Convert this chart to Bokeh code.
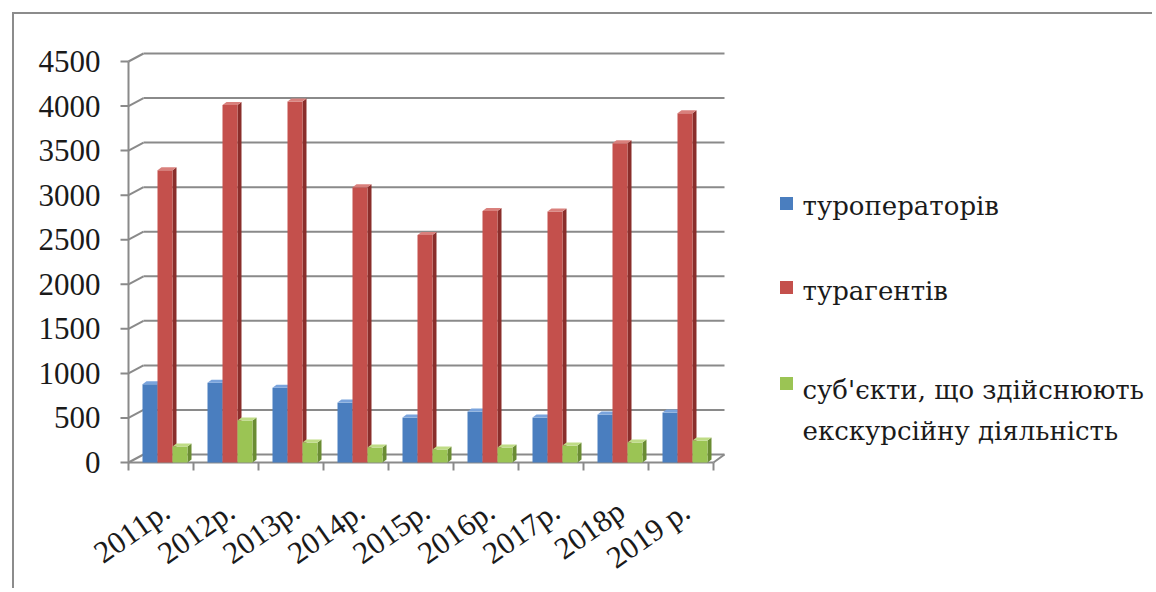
from bokeh.plotting import figure
from bokeh.models import Range1d, ColumnDataSource
from bokeh.core.properties import value
from bokeh.embed import file_html
from bokeh.resources import INLINE

# ---- data ----
years = ["2011р.", "2012р.", "2013р.", "2014р.", "2015р.", "2016р.", "2017р.", "2018р", "2019 р."]
tour_operators = [877, 896, 840, 672, 504, 571, 504, 538, 560]
travel_agents = [3281, 4012, 4050, 3090, 2553, 2822, 2818, 3583, 3919]
excursion = [179, 470, 224, 168, 146, 168, 190, 224, 246]
legend_lines = ["туроператорів", "турагентів", "суб'єкти, що здійснюють", "екскурсійну діяльність"]
y_ticks = [0, 500, 1000, 1500, 2000, 2500, 3000, 3500, 4000, 4500]
y_tick_labels = [str(t) for t in y_ticks]

# ---- geometry (page pixels -> data) ----
PX_X = 65.0               # pixels per category
PX_Y = 401.0 / 4500.0     # pixels per unit
ORIGIN_X, ORIGIN_Y = 128, 462   # page position of (0, 0)


def dx(px):
    return (px - ORIGIN_X) / PX_X


def dy(py):
    return (ORIGIN_Y - py) / PX_Y


W, H = 1140, 576
CANVAS_X, CANVAS_Y = 14, 14
FONT = "Liberation Serif"
FONT_CYR = "DejaVu Serif"
TEXT = "#1a1a1a"
GRID = "#8a8a8a"

p = figure(width=W, height=H, output_backend="svg", toolbar_location=None,
           x_range=Range1d(dx(CANVAS_X), dx(CANVAS_X + W)),
           y_range=Range1d(dy(CANVAS_Y + H), dy(CANVAS_Y)),
           x_axis_location=None, y_axis_location=None,
           min_border_left=0, min_border_right=0, min_border_top=0, min_border_bottom=0)
p.styles = {"margin-left": "12px", "margin-top": "12px",
            "border-left": "2px solid #8c8c8c", "border-top": "2px solid #8c8c8c"}
p.outline_line_color = None
p.grid.grid_line_color = None
p.grid.visible = False
p.background_fill_color = "white"
p.border_fill_color = "white"

wall_dx = 15 / PX_X
wall_dy = 8 / PX_Y
n = len(years)
wall_right = n + 11 / PX_X
nt = len(y_ticks)

# back wall gridlines with diagonal link to the front axis
p.segment(x0=[0] * nt, y0=y_ticks, x1=[wall_dx] * nt,
          y1=[t + wall_dy for t in y_ticks], line_color=GRID, line_width=2)
p.segment(x0=[wall_dx] * nt, y0=[t + wall_dy for t in y_ticks],
          x1=[wall_right] * nt, y1=[t + wall_dy for t in y_ticks],
          line_color=GRID, line_width=2)
# front value axis, its ticks and labels
p.segment(x0=[0], y0=[0], x1=[0], y1=[y_ticks[-1]], line_color=GRID, line_width=2)
p.segment(x0=[dx(ORIGIN_X - 8)] * nt, y0=y_ticks, x1=[0] * nt, y1=y_ticks,
          line_color=GRID, line_width=2)
p.text(x=[dx(ORIGIN_X - 28)] * nt, y=y_ticks, text=y_tick_labels, text_align="right",
       text_baseline="middle", text_font=value(FONT), text_font_size="31px", text_color=TEXT)
# floor edge and category ticks
p.segment(x0=[0], y0=[0], x1=[n], y1=[0], line_color=GRID, line_width=2)
p.segment(x0=[n], y0=[0], x1=[wall_right], y1=[wall_dy], line_color=GRID, line_width=2)
tick_len = 8 / PX_Y
p.segment(x0=list(range(n + 1)), y0=[0] * (n + 1), x1=list(range(n + 1)),
          y1=[-tick_len] * (n + 1), line_color=GRID, line_width=2)

# bars (pseudo 3D)
bar_w = 15 / PX_X
start = 14 / PX_X
ddx = 4 / PX_X
ddy = 3 / PX_Y
colors = ["#4a7ebf", "#c4504c", "#9bc454"]
styles = [
    (tour_operators, colors[0], "#2d5485", "#79a3dc"),
    (travel_agents, colors[1], "#8a2e2b", "#d9807c"),
    (excursion, colors[2], "#6a8c33", "#bfdc86"),
]
for si, (vals, front, side, top) in enumerate(styles):
    lefts = [k + start + si * bar_w for k in range(n)]
    rights = [l + bar_w for l in lefts]
    src = ColumnDataSource(dict(left=lefts, right=rights, top=vals, bottom=[0] * n))
    side_xs = [[r, r + ddx, r + ddx, r] for r in rights]
    side_ys = [[0, ddy, v + ddy, v] for v in vals]
    top_xs = [[l, l + ddx, r + ddx, r] for l, r in zip(lefts, rights)]
    top_ys = [[v, v + ddy, v + ddy, v] for v in vals]
    p.patches(xs=side_xs, ys=side_ys, fill_color=side, line_color=None)
    p.quad(left="left", right="right", top="top", bottom="bottom", source=src,
           fill_color=front, line_color=None)
    p.patches(xs=top_xs, ys=top_ys, fill_color=top, line_color=None)

# category labels (rotated)
p.text(x=[k + 0.58 for k in range(n)], y=[dy(ORIGIN_Y + 45)] * n, text=years,
       angle=0.61, text_align="right", text_baseline="middle", text_font=value(FONT),
       text_font_size="31px", text_color=TEXT)

# legend (drawn by hand so the wrapped third entry matches)
p.scatter(x=[dx(786)] * 3, y=[dy(203), dy(287), dy(383)], marker="square", size=13,
          fill_color=colors, line_color=None)
p.text(x=[dx(802)] * 4, y=[dy(205), dy(290), dy(389), dy(430)], text=legend_lines,
       text_baseline="middle", text_align="left", text_font=value(FONT_CYR),
       text_font_size="26px", text_color=TEXT)

open("out.html", "w").write(file_html(p, INLINE))
